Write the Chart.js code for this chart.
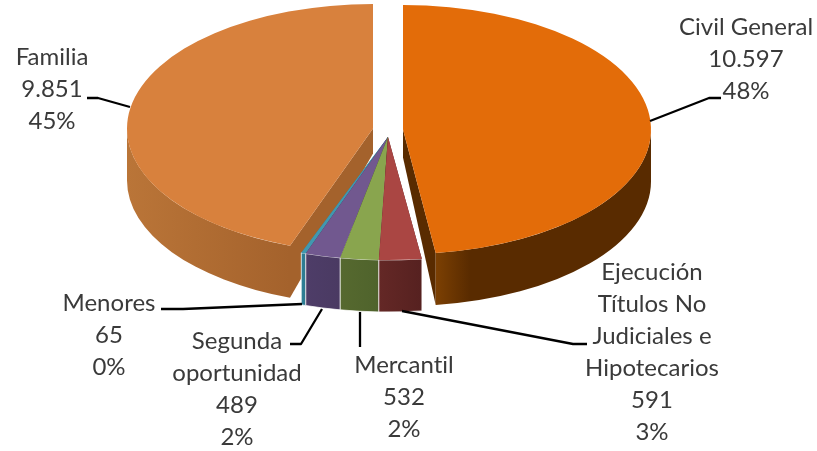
<!DOCTYPE html>
<html><head><meta charset="utf-8">
<style>html,body{margin:0;padding:0;background:#fff}#w{width:817px;height:451px;position:relative}</style>
<script src="https://cdn.jsdelivr.net/npm/chart.js@4"></script>
</head><body><div id="w"><canvas id="c" width="817" height="451"></canvas></div>
<script>
const categories = ["Civil General","Ejecución Títulos No Judiciales e Hipotecarios","Mercantil","Segunda oportunidad","Menores","Familia"];
const values = [10597,591,532,489,65,9851];
const valueLabels = ["10.597","591","532","489","65","9.851"];
const percentLabels = ["48%","3%","2%","2%","0%","45%"];
const labelLines = [["Civil General"],["Ejecución","Títulos No","Judiciales e","Hipotecarios"],["Mercantil"],["Segunda","oportunidad"],["Menores"],["Familia"]];
const topColors = ["#E36C09","#AA4643","#89A54E","#71588F","#4198AF","#D8813D"];
const wallLight = ["#7C4003","#642826","#56692F","#4E3D68","#2F8096","#BA7538"];
const wallDark  = ["#592B00","#562120","#4F632C","#4A3A62","#2C7A90","#A4622C"];

/* presentation */
const geo = {depth:52};
const sliceGeo = [
 {cx:403,cy:129.5,rx:248,ry:124.5,tip:28},
 {cx:388,cy:137,rx:257,ry:123,tip:28},
 {cx:388,cy:137,rx:257,ry:123,tip:28},
 {cx:388,cy:137,rx:257,ry:123,tip:28},
 {cx:388,cy:137,rx:257,ry:123,tip:28},
 {cx:373,cy:128.5,rx:246,ry:124.5,tip:25}
];
const drawOrder = [5,0,4,3,2,1];
const labelCenters = [[746,27],[652,272],[404,365],[237,341],[109,303],[52,57]];
const lineStep = 32;
const leaders = [
 [[650,121],[709,98],[721,98]],
 [[402,311],[573,344],[587,344]],
 [[360,312],[360,347]],
 [[322,309],[301,344],[290,344]],
 [[302,304],[183,309],[161,309]],
 [[130,107],[98,98],[87,98]]
];

const pie3d = {
 id:'pie3d',
 beforeDatasetsDraw(chart){
  const ctx = chart.ctx, arcs = chart.getDatasetMeta(0).data;
  drawOrder.forEach(i=>{
   const arc = arcs[i], g = sliceGeo[i], depth = geo.depth;
   const cx = g.cx, cy = g.cy;
   const a0 = arc.startAngle, a1 = arc.endAngle;
   const px = a=>cx+g.rx*Math.cos(a), py = a=>cy+g.ry*Math.sin(a);
   // cut faces
   ctx.fillStyle = wallDark[i];
   [a0,a1].forEach(a=>{
    ctx.beginPath();
    ctx.moveTo(cx,cy);ctx.lineTo(px(a),py(a));
    ctx.lineTo(px(a),py(a)+depth);ctx.lineTo(cx,cy+g.tip);
    ctx.closePath();ctx.fill();
   });
   // outer wall
   const v0 = Math.max(a0,0), v1 = Math.min(a1,Math.PI);
   if(v1>v0){
    const x0 = px(v0), x1 = px(v1);
    const grad = ctx.createLinearGradient(Math.min(x0,x1),0,Math.max(x0,x1),0);
    if(i===0){grad.addColorStop(0,wallLight[i]);grad.addColorStop(0.16,wallDark[i]);grad.addColorStop(1,wallDark[i]);}
    else {grad.addColorStop(0,wallLight[i]);grad.addColorStop(1,wallDark[i]);}
    ctx.fillStyle = grad;
    ctx.beginPath();
    ctx.ellipse(cx,cy,g.rx,g.ry,0,v0,v1,false);
    ctx.ellipse(cx,cy+depth,g.rx,g.ry,0,v1,v0,true);
    ctx.closePath();ctx.fill();
    if(i>=1&&i<=4){ctx.strokeStyle='rgba(255,255,255,.75)';ctx.lineWidth=1;ctx.stroke();}
   }
   // top face, drawn by the library's arc element
   ctx.save();
   ctx.translate(cx,cy);
   ctx.scale(g.rx/arc.outerRadius,g.ry/arc.outerRadius);
   ctx.translate(-arc.x,-arc.y);
   arc.draw(ctx);
   ctx.restore();
  });
  return false;
 },
 afterDraw(chart){
  const ctx = chart.ctx;
  ctx.save();
  ctx.strokeStyle='#000';ctx.lineWidth=2.3;ctx.lineJoin='round';
  leaders.forEach(l=>{ctx.beginPath();l.forEach((p,k)=>k?ctx.lineTo(p[0],p[1]):ctx.moveTo(p[0],p[1]));ctx.stroke();});
  ctx.fillStyle='#3a3a3a';ctx.font='24px Lato';ctx.letterSpacing='0.01px';ctx.textAlign='center';ctx.textBaseline='middle';
  categories.forEach((c,i)=>{
   const lines = labelLines[i].concat([valueLabels[i],percentLabels[i]]);
   lines.forEach((t,k)=>ctx.fillText(t,labelCenters[i][0],labelCenters[i][1]+k*lineStep));
  });
  ctx.restore();
 }
};

new Chart(document.getElementById('c'),{
 type:'pie',
 data:{labels:categories,datasets:[{data:values,backgroundColor:topColors,borderWidth:0}]},
 options:{responsive:false,animation:false,layout:{padding:0},
  plugins:{legend:{display:false},tooltip:{enabled:false}}},
 plugins:[pie3d]
});
</script></body></html>
